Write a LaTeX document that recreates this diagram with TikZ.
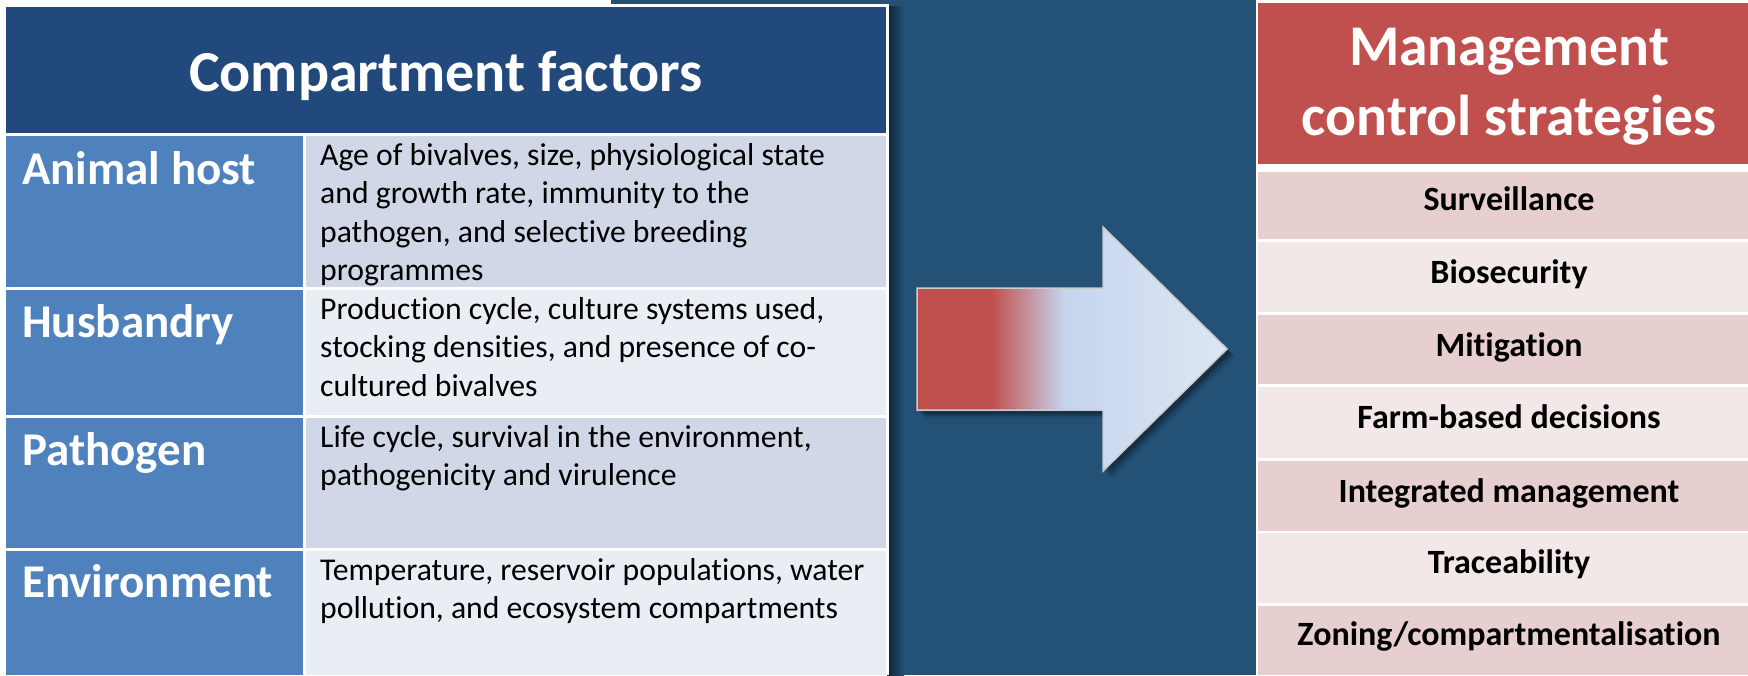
\documentclass[tikz,border=0pt]{standalone}
\usepackage{fontspec}
\setmainfont{Carlito}[Ligatures=NoCommon]
\definecolor{bgblue}{HTML}{245277}
\definecolor{headblue}{HTML}{21497C}
\definecolor{labelblue}{HTML}{4F81BD}
\definecolor{rowdark}{HTML}{D0D8E8}
\definecolor{rowlight}{HTML}{E9EDF4}
\definecolor{headred}{HTML}{C0504D}
\definecolor{rowpink}{HTML}{E7CFCF}
\definecolor{rowpale}{HTML}{F3E8E8}
\definecolor{arrowblue}{HTML}{C6D5EE}
\definecolor{arrowpale}{HTML}{DEE6F3}
% red-to-blue fill of the block arrow (path box maps to 25bp..75bp)
\pgfdeclarehorizontalshading{flowshade}{100bp}{color(0bp)=(headred); color(37bp)=(headred); color(48.8bp)=(arrowblue); color(75bp)=(arrowpale); color(100bp)=(arrowpale)}
\begin{document}
\begin{tikzpicture}[x=1pt,y=-1pt,
  headtext/.style={font=\fontsize{58}{70}\selectfont\bfseries, text=white, inner sep=0, anchor=base},
  rowlabel/.style={font=\fontsize{47}{56}\selectfont\bfseries, text=white, anchor=base west, inner sep=0},
  desc/.style={font=\fontsize{31.7}{38.4}\selectfont, text=black, anchor=north west, inner sep=0, align=left},
  mgmthead/.style={font=\fontsize{57.6}{70}\selectfont\bfseries, text=white, anchor=north, inner sep=0, align=center},
  strategy/.style={font=\fontsize{34}{41}\selectfont\bfseries, text=black, anchor=base, inner sep=0}]
\useasboundingbox (0,0) rectangle (1748,675);
% page background and dark panel
\fill[white] (0,0) rectangle (1748,675);
\fill[bgblue] (611,0) rectangle (1748,675);

% ---------- left table: compartment factors ----------
\shade[left color=bgblue!40!black, right color=bgblue] (887,6) rectangle (904,675);
\fill[white] (4,4) rectangle (889,675);
\fill[headblue] (6,7) rectangle (886,133);
\node[headtext] (cf) at (446,91) {Compartment factors};

\foreach \t/\b/\c in {136/287/rowdark, 290/415/rowlight, 418/548/rowdark, 551/675/rowlight}{
  \fill[labelblue] (6,\t) rectangle (303,\b);
  \fill[\c] (306,\t) rectangle (886,\b);
}
\node[rowlabel] (host) at (22,184) {Animal host};
\node[rowlabel] (husb) at (22,337) {Husbandry};
\node[rowlabel] (path) at (22,465) {Pathogen};
\node[rowlabel] (env)  at (22,597) {Environment};

\node[desc] (hostd) at (320,136) {\rule{0pt}{29pt}Age of bivalves, size, physiological state\\and growth rate, immunity to the\\pathogen, and selective breeding\\programmes};
\node[desc] (husbd) at (320,290) {\rule{0pt}{29pt}Production cycle, culture systems used,\\stocking densities, and presence of co-\\cultured bivalves};
\node[desc] (pathd) at (320,418) {\rule{0pt}{29pt}Life cycle, survival in the environment,\\pathogenicity and virulence};
\node[desc] (envd)  at (320,551) {\rule{0pt}{29pt}Temperature, reservoir populations, water\\pollution, and ecosystem compartments};

% ---------- block arrow ----------
\foreach \d/\o in {8/0.10, 6/0.15, 4/0.2}{
  \fill[black, opacity=\o, shift={(\d,\d)}]
    (917,288) -- (1103,288) -- (1103,227) -- (1227,349) -- (1103,471) -- (1103,410) -- (917,410) -- cycle;
}
\path[shading=flowshade, draw=black!20, line width=1.5pt]
  (917,288) -- (1103,288) -- (1103,227) -- (1227,349) -- (1103,471) -- (1103,410) -- (917,410) -- cycle;

% ---------- right table: management control strategies ----------
\fill[white] (1256,0) rectangle (1748,675);
\fill[headred] (1258,3) rectangle (1748,164);
\node[mgmthead] (mcs) at (1509,15) {\rule{0pt}{50pt}Management\\control strategies};

\foreach \t/\b/\c in {172/239/rowpink, 242/312/rowpale, 315/384/rowpink, 387/458/rowpale, 461/531/rowpink, 533/603/rowpale, 606/675/rowpink}{
  \fill[\c] (1258,\t) rectangle (1748,\b);
}
\node[strategy] (s1) at (1509,210) {Surveillance};
\node[strategy] (s2) at (1509,283) {Biosecurity};
\node[strategy] (s3) at (1509,356) {Mitigation};
\node[strategy] (s4) at (1509,428) {Farm-based decisions};
\node[strategy] (s5) at (1509,502) {Integrated management};
\node[strategy] (s6) at (1509,573) {Traceability};
\node[strategy] (s7) at (1509,645) {Zoning/compartmentalisation};
\end{tikzpicture}
\end{document}
